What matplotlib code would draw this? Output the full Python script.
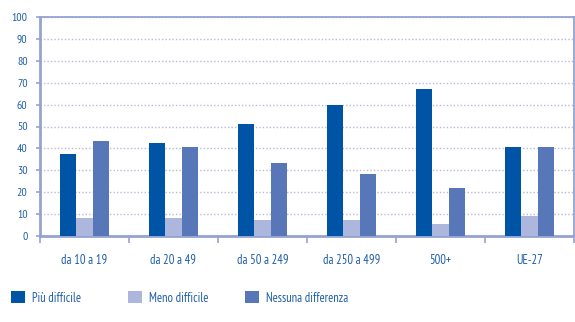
import numpy as np
import matplotlib.pyplot as plt

plt.rcParams['font.family'] = ['PT Sans Narrow', 'DejaVu Sans']

categorie = ['da 10 a 19', 'da 20 a 49', 'da 50 a 249', 'da 250 a 499', '500+', 'UE-27']
piu_difficile = [37.5, 42.5, 51.3, 60.0, 67.2, 40.6]
meno_difficile = [8.1, 8.1, 7.5, 7.2, 5.4, 9.0]
nessuna_diff = [43.5, 40.7, 33.3, 28.2, 21.8, 40.6]

serie = ['Più difficile', 'Meno difficile', 'Nessuna differenza']
colori = ['#0054a6', '#adb6dc', '#5877b8']
testo = '#1f5ea8'
linea = '#95a3d2'

fig = plt.figure(figsize=(5.75, 3.22), dpi=100)
ax = fig.add_axes([40/575, 86/322, 534/575, 219/322])

x = np.arange(len(categorie))
w = 0.187
barre = []
for i, (vals, col) in enumerate(zip([piu_difficile, meno_difficile, nessuna_diff], colori)):
    b = ax.bar(x + (i - 1) * w, vals, w, color=col, label=serie[i], zorder=3)
    barre.append(b)

ax.set_xlim(-0.5, len(categorie) - 0.5)
ax.set_ylim(0, 100)
ax.set_yticks(range(0, 101, 10))
ax.yaxis.grid(True, linestyle=(0, (1, 1.5)), color='#b4bcdc', linewidth=1.0, zorder=0)

# tacche sull'asse x ai confini tra le categorie
ax.set_xticks(np.arange(-0.5, len(categorie), 1.0))
ax.set_xticklabels([])
ax.set_xticks(x, minor=True)
ax.set_xticklabels(categorie, minor=True)
ax.tick_params(axis='x', which='major', length=5, width=1.2, color=linea, direction='out')
ax.tick_params(axis='x', which='minor', length=0, pad=13, labelsize=9, labelcolor=testo)
ax.tick_params(axis='y', length=3, width=1.2, color=linea, labelsize=8.5, labelcolor=testo, pad=6)

for s in ax.spines.values():
    s.set_color(linea)
    s.set_linewidth(1.3)
ax.spines['left'].set_linewidth(2)
ax.spines['bottom'].set_linewidth(2)

# legenda in basso, una voce per volta
pos = [11, 128, 245]
for b, xp in zip(barre, pos):
    fig.legend(handles=[b], loc='center left', bbox_to_anchor=(xp/575, 1 - 298/322),
               frameon=False, fontsize=9, handlelength=1.1, handleheight=1.1,
               handletextpad=0.6, labelcolor=testo, borderaxespad=0, borderpad=0)

fig.savefig('out.png', dpi=100)
